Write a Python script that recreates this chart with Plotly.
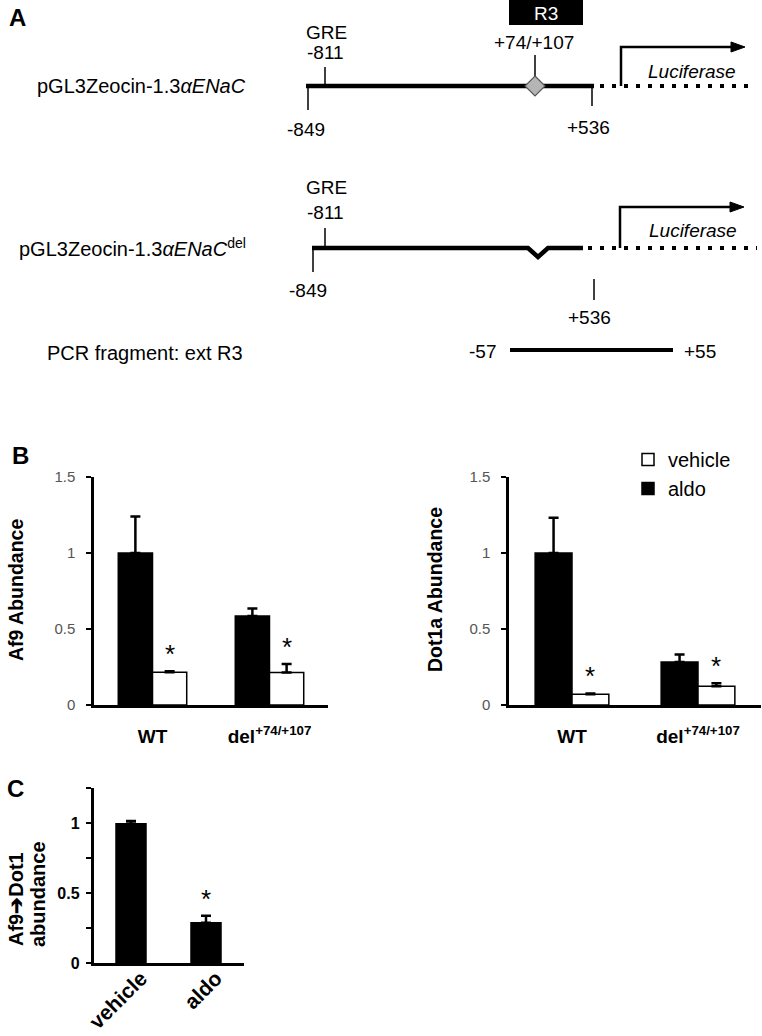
import plotly.graph_objects as go

# ---------------- data ----------------
groups = ["WT", "del<sup>+74/+107</sup>"]
af9_aldo = [1.00, 0.585]
af9_aldo_err = [0.24, 0.05]
af9_vehicle = [0.215, 0.213]
af9_vehicle_err = [0.007, 0.057]

dot1a_aldo = [1.00, 0.283]
dot1a_aldo_err = [0.232, 0.05]
dot1a_vehicle = [0.07, 0.123]
dot1a_vehicle_err = [0.006, 0.02]

c_conditions = ["vehicle", "aldo"]
c_values = [0.995, 0.288]
c_err = [0.02, 0.05]
c_signif = [False, True]

b_ticks = [0, 0.5, 1, 1.5]
b_ticktext = ["0", "0.5", "1", "1.5"]
c_ticks = [0, 0.5, 1]
c_ticktext = ["0", "0.5", "1"]
c_minor_ticks = [0.25, 0.75, 1.25]

# panel A schematic labels
construct1 = "pGL3Zeocin-1.3<i>αENaC</i>"
construct2 = "pGL3Zeocin-1.3<i>αENaC</i><sup>del</sup>"
pcr_label = "PCR fragment: ext R3"

# ---------------- helpers ----------------
W, H = 762, 1036
FONT = "Arial, Liberation Sans, Helvetica, sans-serif"
BARGAP = 0.415


def px(x):
    return x / W


def py(y):
    return 1 - y / H


def path(points, close=False):
    s = "M " + " L ".join(f"{px(x)},{py(y)}" for x, y in points)
    return s + (" Z" if close else "")


fig = go.Figure()


def err(arr):
    return dict(type="data", symmetric=False, array=arr, arrayminus=[0] * len(arr),
                color="black", thickness=2.5, width=5)


# Panel B left (Af9)
fig.add_trace(go.Bar(x=groups, y=af9_aldo, name="aldo", legendrank=2,
                     marker=dict(color="black", line=dict(color="black", width=1.5)),
                     error_y=err(af9_aldo_err), xaxis="x", yaxis="y"))
fig.add_trace(go.Bar(x=groups, y=af9_vehicle, name="vehicle", legendrank=1,
                     marker=dict(color="white", line=dict(color="black", width=1.5)),
                     error_y=err(af9_vehicle_err), xaxis="x", yaxis="y"))
# Panel B right (Dot1a)
fig.add_trace(go.Bar(x=groups, y=dot1a_aldo, name="aldo", showlegend=False,
                     marker=dict(color="black", line=dict(color="black", width=1.5)),
                     error_y=err(dot1a_aldo_err), xaxis="x2", yaxis="y2"))
fig.add_trace(go.Bar(x=groups, y=dot1a_vehicle, name="vehicle", showlegend=False,
                     marker=dict(color="white", line=dict(color="black", width=1.5)),
                     error_y=err(dot1a_vehicle_err), xaxis="x2", yaxis="y2"))
# Panel C
fig.add_trace(go.Bar(x=c_conditions, y=c_values, name="Af9-Dot1", showlegend=False, width=0.4,
                     marker=dict(color="black", line=dict(color="black", width=1.5)),
                     error_y=err(c_err), xaxis="x3", yaxis="y3"))

annotations = []
shapes = []

# significance asterisks
off = (1 - BARGAP) / 4
for i in range(len(groups)):
    annotations.append(dict(xref="x", yref="y", x=i + off, y=af9_vehicle[i] + af9_vehicle_err[i],
                            text="*", showarrow=False, yanchor="bottom",
                            font=dict(size=26, family=FONT, color="black")))
    annotations.append(dict(xref="x2", yref="y2", x=i + off, y=dot1a_vehicle[i] + dot1a_vehicle_err[i],
                            text="*", showarrow=False, yanchor="bottom",
                            font=dict(size=26, family=FONT, color="black")))
for i, s in enumerate(c_signif):
    if s:
        annotations.append(dict(xref="x3", yref="y3", x=c_conditions[i], y=c_values[i] + c_err[i],
                                text="*", showarrow=False, yanchor="bottom",
                                font=dict(size=26, family=FONT, color="black")))


def txt(x, y, text, size=19, xanchor="center", color="black", bold=False, angle=0):
    annotations.append(dict(xref="paper", yref="paper", x=px(x), y=py(y), text=text,
                            showarrow=False, xanchor=xanchor, yanchor="middle", textangle=angle,
                            font=dict(size=size, color=color, family=FONT,
                                      weight="bold" if bold else "normal")))


def line(x0, y0, x1, y1, w=1.5, dash="solid"):
    shapes.append(dict(type="line", xref="paper", yref="paper", x0=px(x0), y0=py(y0),
                       x1=px(x1), y1=py(y1), line=dict(color="black", width=w, dash=dash)))


# ---------- Panel A ----------
txt(17, 18, "A", size=24, bold=True)
# row 1
txt(35, 86, construct1, size=20, xanchor="left")
line(306, 86, 594, 86, 4.5)
line(308, 86, 308, 110)
line(325, 67, 325, 86)
line(535, 55, 535, 76)
line(592, 86, 592, 106)
shapes.append(dict(type="path", xref="paper", yref="paper",
                   path=path([(535, 76), (545, 86), (535, 96), (525, 86)], close=True),
                   fillcolor="#b5b5b5", line=dict(color="#555555", width=1.2)))
shapes.append(dict(type="rect", xref="paper", yref="paper", x0=px(509), x1=px(583),
                   y0=py(25), y1=py(0), fillcolor="black", line=dict(width=0)))
line(600, 86, 748, 86, 4, "4px,8px")
shapes.append(dict(type="path", xref="paper", yref="paper",
                   path=path([(621, 86), (621, 47), (733, 47)]),
                   line=dict(color="black", width=2.5)))
shapes.append(dict(type="path", xref="paper", yref="paper",
                   path=path([(731, 42), (745, 47), (731, 52)], close=True),
                   fillcolor="black", line=dict(color="black", width=1)))
txt(326, 33, "GRE")
txt(325, 53, "-811")
txt(306, 130, "-849")
txt(534, 43, "+74/+107")
txt(546, 13, "R3", color="white")
txt(588, 128, "+536")
txt(692, 72, "<i>Luciferase</i>")

# row 2
txt(17, 247, construct2, size=20, xanchor="left")
shapes.append(dict(type="path", xref="paper", yref="paper",
                   path=path([(312, 248), (528, 248), (538, 257), (548, 248), (583, 248)]),
                   line=dict(color="black", width=4.5)))
line(313, 248, 313, 272)
line(325, 228, 325, 248)
line(594, 279, 594, 300)
line(588, 248, 757, 248, 4, "4px,8px")
shapes.append(dict(type="path", xref="paper", yref="paper",
                   path=path([(620, 248), (620, 207), (732, 207)]),
                   line=dict(color="black", width=2.5)))
shapes.append(dict(type="path", xref="paper", yref="paper",
                   path=path([(730, 202), (744, 207), (730, 212)], close=True),
                   fillcolor="black", line=dict(color="black", width=1)))
txt(326, 187, "GRE")
txt(325, 212, "-811")
txt(308, 290, "-849")
txt(589, 318, "+536")
txt(693, 230, "<i>Luciferase</i>")

# row 3
txt(45, 353, pcr_label, size=20, xanchor="left")
line(510, 350, 673, 350, 4)
txt(498, 351, "-57", xanchor="right")
txt(682, 351, "+55", xanchor="left")

# ---------- Panel B / C labels ----------
txt(20, 455, "B", size=24, bold=True)
txt(15, 788, "C", size=24, bold=True)
txt(16, 590, "Af9 Abundance", size=19.5, bold=True, angle=-90)
txt(435, 590, "Dot1a Abundance", size=19.5, bold=True, angle=-90)
txt(16, 899, "Af9➔Dot1", size=20, bold=True, angle=-90)
txt(38, 894, "abundance", size=20, bold=True, angle=-90)

# ---------- axes ----------
def xax(d0, d1, anchor, **kw):
    base = dict(domain=[px(d0), px(d1)], anchor=anchor, type="category", range=[-0.5, 1.5],
                showline=True, linecolor="black", linewidth=2.5, ticks="", showgrid=False,
                zeroline=False, fixedrange=True, automargin=False,
                tickfont=dict(size=19, color="black", family=FONT, weight="bold"))
    base.update(kw)
    return base


def yax(top, bottom, anchor, rng, tv, tt, tickfont, standoff, **kw):
    base = dict(domain=[py(bottom), py(top)], anchor=anchor, range=rng, tickmode="array",
                tickvals=tv, ticktext=tt, ticks="outside", ticklen=5, tickwidth=2,
                tickcolor="black", showline=True, linecolor="black", linewidth=2.5,
                showgrid=False, zeroline=False, fixedrange=True, tickfont=tickfont,
                ticklabelstandoff=standoff, automargin=False)
    base.update(kw)
    return base


b_tickfont = dict(size=15, color="#555555", family=FONT)
c_tickfont = dict(size=16, color="black", family=FONT, weight="bold")

fig.update_layout(
    template="none",
    width=W, height=H,
    margin=dict(l=0, r=0, t=0, b=0, pad=0, autoexpand=False),
    paper_bgcolor="white", plot_bgcolor="white",
    font=dict(family=FONT, color="black"),
    barmode="group", bargap=BARGAP, bargroupgap=0,
    xaxis=xax(94, 328, "y", ticklabelstandoff=12),
    yaxis=yax(477, 705, "x", [0, 1.5], b_ticks, b_ticktext, b_tickfont, 8),
    xaxis2=xax(509, 761, "y2", ticklabelstandoff=12),
    yaxis2=yax(477, 705, "x2", [0, 1.5], b_ticks, b_ticktext, b_tickfont, 8),
    xaxis3=xax(93.5, 243.5, "y3", tickangle=-45, ticklabelstandoff=-8, ticklabelshift=10,
               tickfont=dict(size=21, color="black", family=FONT, weight="bold")),
    yaxis3=yax(788, 963, "x3", [0, 1.25], c_ticks, c_ticktext, c_tickfont, 3,
               minor=dict(tickmode="array", tickvals=c_minor_ticks, ticks="outside",
                          ticklen=5, tickwidth=2, tickcolor="black", showgrid=False)),
    showlegend=True,
    legend=dict(x=px(628), y=py(440), xanchor="left", yanchor="top",
                font=dict(size=20, family=FONT, color="black"),
                bgcolor="rgba(0,0,0,0)", traceorder="normal"),
    annotations=annotations,
    shapes=shapes,
)

fig.write_html("out.html", config={"displayModeBar": False},
               post_script="document.body.style.margin='0';document.body.style.overflow='hidden';")
